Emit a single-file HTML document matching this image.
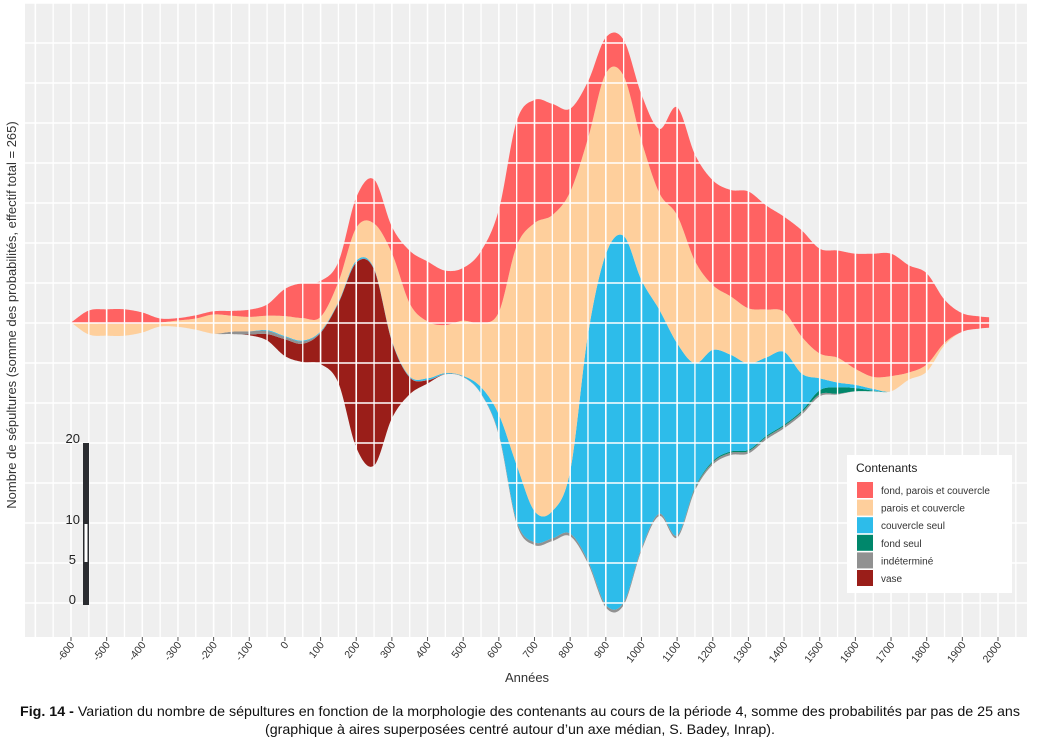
<!DOCTYPE html>
<html><head><meta charset="utf-8"><style>
html,body{margin:0;padding:0;background:#fff;}
svg{display:block;font-family:"Liberation Sans",Arial,sans-serif;}
</style></head><body>
<svg id="chart" width="1037" height="746" viewBox="0 0 1037 746">
<rect x="25" y="3" width="1002" height="634" fill="#EFEFEF"/>
<g id="areas"></g>
<g id="grid"></g>
<g id="xaxis"></g>
<text x="527" y="682" font-size="13" fill="#333" text-anchor="middle">Années</text>
<text transform="translate(16,315) rotate(-90)" font-size="13" fill="#333" text-anchor="middle">Nombre de sépultures  (somme des probabilités, effectif total = 265)</text>
<g>
<rect x="83" y="443" width="6" height="162" fill="#2b2d31"/>
<rect x="84.5" y="524" width="3" height="38" fill="#fff"/>
<text x="80" y="443" font-size="13" fill="#222" text-anchor="end">20</text>
<text x="80" y="524" font-size="13" fill="#222" text-anchor="end">10</text>
<text x="76" y="564" font-size="13" fill="#222" text-anchor="end">5</text>
<text x="76" y="604" font-size="13" fill="#222" text-anchor="end">0</text>
</g>
<g>
<rect x="847" y="455" width="165" height="138" fill="#fff"/>
<text x="856" y="472" font-size="12" fill="#222">Contenants</text>
<g id="legendItems"></g>
</g>
<text x="20" y="716" font-size="14" fill="#111" textLength="1000" lengthAdjust="spacingAndGlyphs"><tspan font-weight="bold">Fig. 14 -</tspan> Variation du nombre de sépultures en fonction de la morphologie des contenants au cours de la période 4, somme des probabilités par pas de 25 ans</text>
<text x="520" y="734" font-size="14" fill="#111" text-anchor="middle" textLength="510" lengthAdjust="spacingAndGlyphs">(graphique à aires superposées centré autour d’un axe médian, S. Badey, Inrap).</text>
</svg>
<script>
const years = [-600,-550,-500,-450,-400,-350,-300,-250,-200,-150,-100,-50,0,50,100,150,200,250,300,350,400,450,500,550,600,650,700,750,800,850,900,950,1000,1050,1100,1150,1200,1250,1300,1350,1400,1450,1500,1550,1600,1650,1700,1750,1800,1850,1900,1950,1975];
const fondParoisCouvercle = [0,1.6,1.8,1.8,1.4,0.5,0.3,0.4,0.4,0.6,0.9,1.4,3.4,4.4,4.5,2.5,3.8,5.5,3.3,6.6,7.5,6.8,6.6,9,12.8,15.6,15.4,13.9,10.4,7.1,4.5,4.5,5.8,8,13.5,13.3,13.1,13.3,14.6,13,11.9,13.3,13.1,13.4,14.4,15.4,15.3,13.4,11.4,5.4,2.3,1.5,1.3];
const paroisCouvercle = [0,1.4,1.5,1.5,1.1,0.5,0.8,1.4,2.4,2,1.8,1.8,2.5,2.8,1.8,2.5,4.1,5.6,10.9,9.1,7.1,6,6.9,8,12.8,27.4,36,37,34.9,24.5,22.6,20,17.4,14.6,16,12.8,8.1,7.3,6.9,6,5,4.6,3.1,3.1,2,1.5,1.9,0.9,0.9,0.3,0,0,0];
const couvercleSeul = [0,0,0,0,0,0,0,0,0,0,0,0.1,0.1,0.1,0.1,0.1,0.2,0.1,0.1,0.1,0.2,0.1,0.1,0.8,2.4,7,3.9,3.4,7.8,28.3,43.8,45.8,33.5,25.5,24,15.5,13.9,12.1,10.8,9.8,9.1,4.6,1.5,0.6,0.4,0.2,0,0,0,0,0,0,0];
const fondSeul = [0,0,0,0,0,0,0,0,0,0,0,0,0,0,0,0,0,0,0,0,0,0,0,0,0,0,0,0,0,0,0,0,0,0,0,0.1,0.15,0.15,0.15,0.15,0.15,0.2,0.5,0.8,0.4,0.1,0,0,0,0,0,0,0];
const indetermine = [0,0,0,0,0,0,0,0,0,0.3,0.4,0.4,0.3,0.3,0.1,0.05,0.05,0.05,0.05,0.05,0.05,0.05,0.05,0.05,0.2,0.35,0.35,0.35,0.35,0.35,0.35,0.35,0.3,0.3,0.3,0.3,0.3,0.3,0.3,0.3,0.3,0.3,0.25,0.1,0,0,0,0,0,0,0,0,0];
const vase = [0,0,0,0,0,0,0,0,0,0,0.1,0.8,2.1,2.3,3.9,10,23.1,24.5,9.6,2.1,0.4,0,0,0,0,0,0,0,0,0,0,0,0,0,0,0,0,0,0,0,0,0,0,0,0,0,0,0,0,0,0,0,0];
const tickYears = [-600,-500,-400,-300,-200,-100,0,100,200,300,400,500,600,700,800,900,1000,1100,1200,1300,1400,1500,1600,1700,1800,1900,2000];
const seriesNames = ["fond, parois et couvercle","parois et couvercle","couvercle seul","fond seul","indéterminé","vase"];
const seriesColors = ["#FF6262","#FECF9C","#2DBCEA","#00876B","#919191","#9A1E19"];
const seriesSlugs = ["fond-parois-couvercle","parois-couvercle","couvercle-seul","fond-seul","indetermine","vase"];

const NS = "http://www.w3.org/2000/svg";
function xs(yr){ return 71 + (yr + 600) * (998 - 71) / 2600; }
const CY = 322.5, PX = 8;

function smooth(xv, yv){
  const n = xv.length, m = new Array(n).fill(0);
  for (let i=1;i<n-1;i++) m[i] = (yv[i+1]-yv[i-1])/(xv[i+1]-xv[i-1]);
  m[0] = (yv[1]-yv[0])/(xv[1]-xv[0]); m[n-1] = (yv[n-1]-yv[n-2])/(xv[n-1]-xv[n-2]);
  return function(x){
    let i = 0; while (i < n-2 && x > xv[i+1]) i++;
    const h = xv[i+1]-xv[i], t = (x-xv[i])/h, t2=t*t, t3=t2*t;
    const v = (2*t3-3*t2+1)*yv[i] + (t3-2*t2+t)*h*m[i] + (-2*t3+3*t2)*yv[i+1] + (t3-t2)*h*m[i+1];
    return Math.max(0, v);
  };
}

const stackBottomUp = [vase, indetermine, fondSeul, couvercleSeul, paroisCouvercle, fondParoisCouvercle];
const colorsBottomUp = seriesColors.slice().reverse();
const slugsBottomUp = seriesSlugs.slice().reverse();
const interps = stackBottomUp.map(s => smooth(years, s));
const grid = [];
for (let yr = years[0]; yr <= years[years.length-1]; yr += 2.5) grid.push(yr);
const bounds = grid.map(yr => {
  const vals = interps.map(f => f(yr));
  const tot = vals.reduce((a,b)=>a+b,0);
  let base = CY + tot*PX/2;
  const b = [base];
  vals.forEach(v => { base -= v*PX; b.push(base); });
  return b;
});
const areas = document.getElementById('areas');
for (let k=0;k<stackBottomUp.length;k++){
  let d = "";
  grid.forEach((yr,i)=>{ d += (i?"L":"M") + xs(yr).toFixed(2) + "," + bounds[i][k+1].toFixed(2); });
  for (let i=grid.length-1;i>=0;i--) d += "L" + xs(grid[i]).toFixed(2) + "," + bounds[i][k].toFixed(2);
  d += "Z";
  const p = document.createElementNS(NS,'path');
  p.setAttribute('d', d);
  p.setAttribute('fill', colorsBottomUp[k]);
  
  
  areas.appendChild(p);
}

const g = document.getElementById('grid');
for (let yr=-700; yr<=2150; yr+=50){
  const x = xs(yr); if (x < 25 || x > 1027) continue;
  const l = document.createElementNS(NS,'line');
  l.setAttribute('x1',x); l.setAttribute('x2',x); l.setAttribute('y1',3); l.setAttribute('y2',637);
  l.setAttribute('stroke','#fff'); l.setAttribute('stroke-width', yr%100===0 ? 1.6 : 1.3);
  
  
  g.appendChild(l);
}
for (let y=3; y<=637; y+=40){
  const l = document.createElementNS(NS,'line');
  l.setAttribute('x1',25); l.setAttribute('x2',1027); l.setAttribute('y1',y); l.setAttribute('y2',y);
  l.setAttribute('stroke','#fff'); l.setAttribute('stroke-width',1.6);
  
  
  g.appendChild(l);
}

const xa = document.getElementById('xaxis');
tickYears.forEach(yr => {
  const x = xs(yr);
  const t = document.createElementNS(NS,'line');
  t.setAttribute('x1',x); t.setAttribute('x2',x); t.setAttribute('y1',637); t.setAttribute('y2',641);
  t.setAttribute('stroke','#555'); t.setAttribute('stroke-width',1);
  
  
  xa.appendChild(t);
  const tx = document.createElementNS(NS,'text');
  tx.setAttribute('transform','translate(' + (x+4) + ',645) rotate(-52)');
  tx.setAttribute('text-anchor','end');
  tx.setAttribute('font-size','10.5');
  tx.setAttribute('fill','#333');
  tx.textContent = yr < 0 ? "-" + Math.abs(yr) : String(yr);
  
  
  xa.appendChild(tx);
});

const li = document.getElementById('legendItems');
seriesNames.forEach((name,i) => {
  const y = 482 + i*17.6;
  const r = document.createElementNS(NS,'rect');
  r.setAttribute('x',857); r.setAttribute('y',y); r.setAttribute('width',16); r.setAttribute('height',16);
  r.setAttribute('fill',seriesColors[i]);
  
  
  li.appendChild(r);
  const t = document.createElementNS(NS,'text');
  t.setAttribute('x',881); t.setAttribute('y',y+12); t.setAttribute('font-size','10'); t.setAttribute('fill','#333');
  t.textContent = name;
  
  
  li.appendChild(t);
});
</script>
</body></html>
